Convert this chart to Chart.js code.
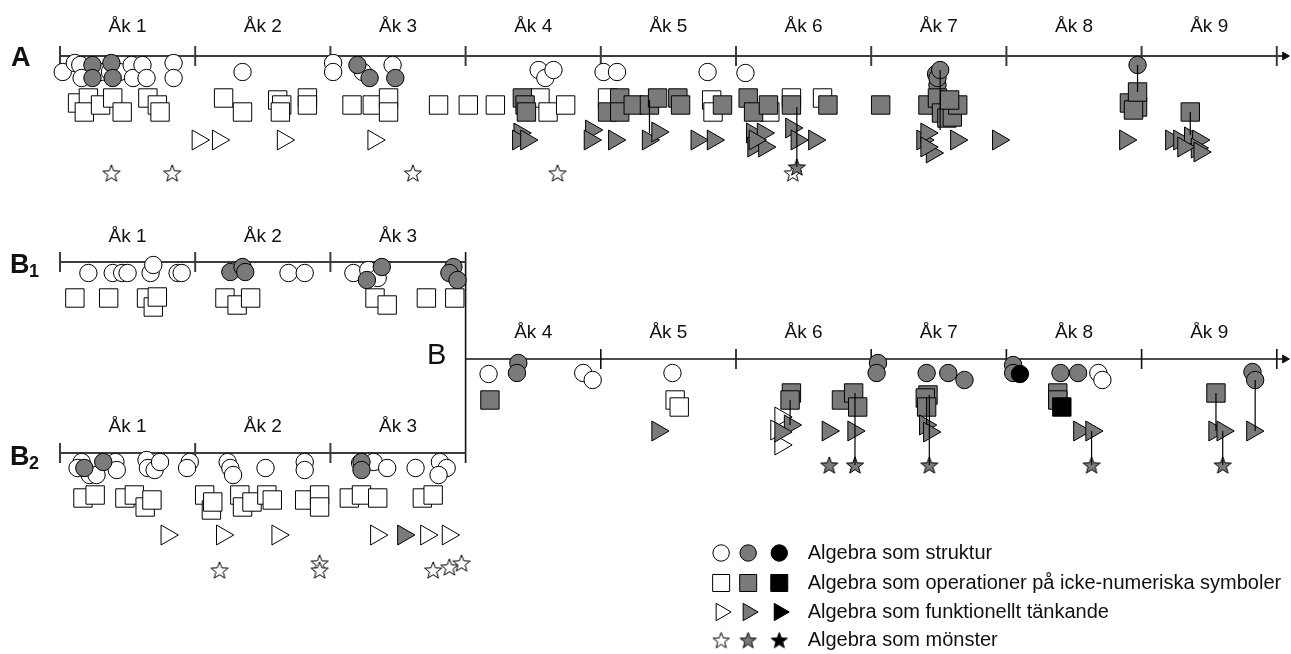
<!DOCTYPE html>
<html>
<head>
<meta charset="utf-8">
<script src="https://cdn.jsdelivr.net/npm/chart.js@4"></script>
<style>
  html, body { margin: 0; padding: 0; background: #fff; }
  canvas { display: block; }
</style>
</head>
<body>
<canvas id="c" width="1291" height="654"></canvas>
<script>
// x = school year (0 = start of Åk 1), y = vertical position in the figure
const GRADES_A  = ['Åk 1','Åk 2','Åk 3','Åk 4','Åk 5','Åk 6','Åk 7','Åk 8','Åk 9'];
const GRADES_B1 = ['Åk 1','Åk 2','Åk 3'];
const GRADES_B2 = ['Åk 1','Åk 2','Åk 3'];
const GRADES_B  = ['Åk 4','Åk 5','Åk 6','Åk 7','Åk 8','Åk 9'];

const LEGEND_TEXT = [
  'Algebra som struktur',
  'Algebra som operationer på icke-numeriska symboler',
  'Algebra som funktionellt tänkande',
  'Algebra som mönster'
];

// ---- panel A
const A_CIRCLE_W = [[0.02,72],[0.11,63],[0.15,65],[0.16,78],[0.30,72],[0.37,72],[0.44,72],[0.53,65],[0.54,78],[0.61,65],[0.64,78],[0.84,63],[0.84,78],[1.35,72],[2.02,63],[2.02,72],[2.24,72],[2.46,65],[3.54,70],[3.59,78],[3.65,70],[4.02,72],[4.12,72],[4.79,72],[5.07,73]];
const A_CIRCLE_G = [[0.24,65],[0.24,78],[0.38,63],[0.39,78],[2.20,65],[2.29,78],[2.48,78],[6.48,74],[6.49,85],[6.49,78],[6.51,70],[7.97,65]];
const A_SQUARE_W = [[0.13,103],[0.21,98],[0.18,112],[0.30,105],[0.39,98],[0.46,112],[0.65,98],[0.72,105],[0.74,112],[1.21,98],[1.35,112],[1.61,100],[1.64,105],[1.63,112],[1.83,98],[1.83,105],[2.16,105],[2.31,105],[2.43,98],[2.43,112],[2.80,105],[3.02,105],[3.22,105],[3.55,98],[3.61,112],[3.74,105],[4.05,98],[4.82,100],[4.83,112],[5.25,112],[5.41,98],[5.64,98]];
const A_SQUARE_G = [[3.42,98],[3.44,105],[3.45,112],[4.05,112],[4.14,98],[4.14,112],[4.24,105],[4.36,105],[4.42,98],[4.57,98],[4.59,105],[4.90,105],[5.09,98],[5.13,112],[5.24,105],[5.41,105],[5.68,105],[6.07,105],[6.42,105],[6.49,98],[6.52,113],[6.56,118],[6.60,117],[6.64,105],[6.58,100],[7.91,103],[7.97,107],[7.94,110],[7.97,92],[8.36,112]];
const A_TRI_W = [[1.02,140],[1.17,140],[1.65,140],[2.32,140]];
const A_TRI_G = [[3.40,133],[3.39,140],[3.45,140],[3.93,130],[3.92,140],[4.10,140],[4.35,140],[4.42,132],[4.71,140],[4.83,140],[5.12,133],[5.13,147],[5.20,133],[5.21,147],[5.14,140],[5.41,128],[5.45,140],[5.58,140],[6.38,140],[6.41,133],[6.45,153],[6.41,147],[6.63,140],[6.94,140],[7.88,140],[8.22,140],[8.28,140],[8.36,137],[8.42,140],[8.41,148],[8.31,147],[8.43,152]];
const A_STAR_W = [[0.38,173],[0.83,173],[2.61,173],[3.68,173],[5.42,173]];
const A_STAR_G = [[5.45,167]];
const A_LINKS = [[4.36,100,133],[5.45,107,167],[6.51,70,130],[7.97,65,92],[8.36,112,135]];

// ---- panel B1
const B1_CIRCLE_W = [[0.21,273],[0.39,273],[0.46,273],[0.50,273],[0.67,273],[0.69,265],[0.87,273],[0.90,273],[1.69,273],[1.81,273],[2.17,273],[2.28,270],[2.35,278]];
const B1_CIRCLE_G = [[1.26,272],[1.35,267],[1.37,272],[2.38,267],[2.27,280],[2.91,267],[2.88,273],[2.94,280]];
const B1_SQUARE_W = [[0.11,298],[0.36,298],[0.64,298],[0.69,307],[0.72,297],[1.22,298],[1.31,305],[1.41,298],[2.33,298],[2.42,305],[2.71,298],[2.92,298]];

// ---- panel B2
const B2_CIRCLE_W = [[0.16,462],[0.13,468],[0.22,475],[0.27,475],[0.41,462],[0.42,470],[0.64,460],[0.65,468],[0.70,470],[0.74,462],[0.96,462],[0.94,468],[1.24,462],[1.26,468],[1.28,475],[1.52,468],[1.81,462],[1.81,470],[2.22,463],[2.32,462],[2.42,468],[2.63,468],[2.81,462],[2.86,468],[2.80,475]];
const B2_CIRCLE_G = [[0.18,468],[0.32,462],[2.23,462],[2.23,470]];
const B2_SQUARE_W = [[0.17,498],[0.26,495],[0.48,498],[0.55,495],[0.63,507],[0.68,500],[1.07,495],[1.12,510],[1.13,502],[1.33,495],[1.35,507],[1.42,502],[1.53,495],[1.57,500],[1.81,500],[1.92,495],[1.92,507],[2.14,498],[2.23,495],[2.35,498],[2.68,498],[2.76,495]];
const B2_TRI_W = [[0.79,535],[1.20,535],[1.61,535],[2.34,535],[2.71,535],[2.87,535]];
const B2_TRI_G = [[2.54,535]];
const B2_STAR_W = [[1.18,570],[1.92,563],[1.92,570],[2.76,570],[2.88,567],[2.97,563]];

// ---- panel B
const B_CIRCLE_W = [[3.17,374],[3.87,373],[3.94,380],[4.53,373],[7.68,373],[7.71,380]];
const B_CIRCLE_G = [[3.39,363],[3.38,373],[6.05,363],[6.04,373],[6.41,373],[6.57,373],[6.69,380],[7.05,365],[7.05,373],[7.40,373],[7.53,373],[8.82,372],[8.84,380]];
const B_CIRCLE_K = [[7.10,374]];
const B_SQUARE_W = [[4.55,400],[4.58,407]];
const B_SQUARE_G = [[3.18,400],[5.41,393],[5.40,400],[5.78,400],[5.87,393],[5.90,407],[6.42,395],[6.40,398],[6.41,407],[7.38,393],[7.38,400],[8.55,393]];
const B_SQUARE_K = [[7.41,407]];
const B_TRI_W = [[5.33,417],[5.33,445],[5.30,430]];
const B_TRI_G = [[4.42,431],[5.40,425],[5.33,432],[5.68,431],[5.87,431],[6.40,425],[6.43,432],[7.54,431],[7.63,431],[8.54,431],[8.60,431],[8.82,431]];
const B_STAR_G = [[5.69,465],[5.88,465],[6.43,465],[7.63,465],[8.60,465]];
const B_LINKS = [[5.40,400,425],[5.88,393,465],[6.43,395,465],[6.41,398,425],[7.63,431,465],[8.55,393,431],[8.60,431,465],[8.84,380,431]];

// ---- timelines: [y, from, to, ticks]
const LINE_A  = [56, 0, 9.05, [0,1,2,3,4,5,6,7,8,9]];
const LINE_B1 = [262, 0, 3, [0,1,2]];
const LINE_B2 = [453, 0, 3, [0,1,2]];
const LINE_B  = [359, 3, 9.05, [4,5,6,7,8,9]];
const CONNECTOR_B = [3, 252, 463];

// ---- legend marker positions (x in years, y rows)
const LEG_X = [4.89, 5.09, 5.32];
const LEG_Y = [553, 583, 612, 640];
const LEG_TEXT_X = 5.53;

const WHITE = '#ffffff', GRAY = '#7a7a7a', BLACK = '#000000';
const PX_PER_YEAR = 135.2;

function pts(arr) { return arr.map(([x, y]) => ({ x, y })); }

function starImg(fill, size) {
  const c = document.createElement('canvas');
  c.width = c.height = size + 2;
  const g = c.getContext('2d');
  const cx = (size + 2) / 2, cy = (size + 2) / 2 + 0.9;
  const R = size / 2, r = R * 0.42;
  g.beginPath();
  for (let i = 0; i < 10; i++) {
    const rad = i % 2 ? r : R;
    const a = -Math.PI / 2 + i * Math.PI / 5;
    g.lineTo(cx + rad * Math.cos(a), cy + rad * Math.sin(a));
  }
  g.closePath();
  g.fillStyle = fill; g.fill();
  g.lineWidth = 1; g.strokeStyle = '#000'; g.stroke();
  return c;
}

const SHAPE = {
  circle: { pointStyle: 'circle', pointRadius: 8.7, rotation: 0 },
  square: { pointStyle: 'rect', pointRadius: 13, rotation: 0 },
  tri:    { pointStyle: 'triangle', pointRadius: 11.5, rotation: 90 },
};

function marks(data, shape, fill, order) {
  const base = shape === 'star'
    ? { pointStyle: starImg(fill, 18), pointRadius: 9, rotation: 0 }
    : SHAPE[shape];
  return {
    data: pts(data),
    showLine: false,
    pointStyle: base.pointStyle,
    pointRadius: base.pointRadius,
    pointRotation: base.rotation,
    pointBackgroundColor: fill,
    pointBorderColor: '#000',
    pointBorderWidth: 1,
    pointHoverRadius: base.pointRadius,
    order: order
  };
}

function segments(list, color, width, order) {
  const data = [];
  list.forEach(([x1, y1, x2, y2]) => {
    data.push({ x: x1, y: y1 }, { x: x2, y: y2 }, { x: x2, y: null });
  });
  return {
    data, showLine: true, spanGaps: false, borderColor: color, borderWidth: width,
    pointRadius: 0, pointHoverRadius: 0, order: order
  };
}

function timelineSegs(line, tickLen) {
  const [y, a, b, ticks] = line;
  const s = [[a, y, b, y]];
  ticks.forEach(t => s.push([t, y - tickLen, t, y + tickLen]));
  return s;
}

const links = A_LINKS.concat(B_LINKS).map(([x, y1, y2]) => [x, y1, x, y2]);

const datasets = [
  segments(links, '#000', 1.2, 0),
  segments(timelineSegs(LINE_A, 10), '#3c3c3c', 2, 30),
  segments(timelineSegs(LINE_B1, 10).concat(timelineSegs(LINE_B2, 10)), '#3c3c3c', 2, 30),
  segments(timelineSegs(LINE_B, 10).concat([[CONNECTOR_B[0], CONNECTOR_B[1], CONNECTOR_B[0], CONNECTOR_B[2]]]), '#111', 1.6, 30),
  { data: [{ x: 9.06, y: LINE_A[0] }, { x: 9.06, y: LINE_B[0] }], showLine: false,
    pointStyle: 'triangle', pointRadius: 4.5, pointRotation: 90,
    pointBackgroundColor: '#111', pointBorderColor: '#111', pointBorderWidth: 1, order: 29 },

  marks(A_STAR_W.concat(B2_STAR_W), 'star', WHITE, 12),
  marks(A_STAR_G.concat(B_STAR_G), 'star', GRAY, 11),
  marks(A_TRI_W.concat(B2_TRI_W, B_TRI_W), 'tri', WHITE, 14),
  marks(A_TRI_G.concat(B2_TRI_G, B_TRI_G), 'tri', GRAY, 13),
  marks(A_SQUARE_W.concat(B1_SQUARE_W, B2_SQUARE_W, B_SQUARE_W), 'square', WHITE, 16),
  marks(A_SQUARE_G.concat(B_SQUARE_G), 'square', GRAY, 15),
  marks(B_SQUARE_K, 'square', BLACK, 14.5),
  marks(A_CIRCLE_W.concat(B1_CIRCLE_W, B2_CIRCLE_W, B_CIRCLE_W), 'circle', WHITE, 18),
  marks(A_CIRCLE_G.concat(B1_CIRCLE_G, B2_CIRCLE_G, B_CIRCLE_G), 'circle', GRAY, 17),
  marks(B_CIRCLE_K, 'circle', BLACK, 16.5),
];

// legend markers
const LEG_SHAPES = ['circle', 'square', 'tri', 'star'];
const LEG_FILLS = [WHITE, GRAY, BLACK];
LEG_SHAPES.forEach((sh, r) => {
  LEG_FILLS.forEach((f, k) => {
    const d = marks([[LEG_X[k], LEG_Y[r]]], sh, f, 1);
    if (sh === 'circle') d.pointRadius = 8.2;
    if (sh === 'square') d.pointRadius = 12;
    if (sh === 'tri') d.pointRadius = 10;
    if (sh === 'star') d.pointStyle = starImg(f, 17);
    datasets.push(d);
  });
});

const FONT = '"Liberation Sans", Arial, sans-serif';

const textPlugin = {
  id: 'texts',
  afterDraw(chart) {
    const ctx = chart.ctx, xs = chart.scales.x, ys = chart.scales.y;
    ctx.save();
    ctx.fillStyle = '#111';
    ctx.textBaseline = 'middle';
    ctx.textAlign = 'center';
    ctx.font = '19px ' + FONT;
    const grade = (labels, start, y) => labels.forEach((t, i) =>
      ctx.fillText(t, xs.getPixelForValue(start + i + 0.5), ys.getPixelForValue(y)));
    grade(GRADES_A, 0, 27);
    grade(GRADES_B1, 0, 237);
    grade(GRADES_B2, 0, 427);
    grade(GRADES_B, 3, 333);

    // panel letters
    ctx.textAlign = 'left';
    ctx.font = 'bold 27px ' + FONT;
    ctx.fillText('A', 11, ys.getPixelForValue(59));
    ctx.fillText('B', 10, ys.getPixelForValue(266));
    ctx.fillText('B', 10, ys.getPixelForValue(458));
    ctx.font = 'bold 18px ' + FONT;
    ctx.fillText('1', 29, ys.getPixelForValue(272));
    ctx.fillText('2', 29, ys.getPixelForValue(464));
    ctx.font = '29px ' + FONT;
    ctx.fillText('B', 427, ys.getPixelForValue(356));

    // legend text
    ctx.font = '20px ' + FONT;
    LEGEND_TEXT.forEach((t, i) => ctx.fillText(t, xs.getPixelForValue(LEG_TEXT_X), ys.getPixelForValue(LEG_Y[i])));
    ctx.restore();
  }
};

new Chart(document.getElementById('c'), {
  type: 'scatter',
  data: { datasets },
  options: {
    responsive: false,
    animation: false,
    devicePixelRatio: 1,
    layout: { padding: 0, autoPadding: false },
    events: [],
    plugins: { legend: { display: false }, tooltip: { enabled: false } },
    elements: { line: { tension: 0 } },
    scales: {
      x: { type: 'linear', display: false, min: -60 / PX_PER_YEAR, max: (1291 - 60) / PX_PER_YEAR },
      y: { type: 'linear', display: false, min: 0, max: 654, reverse: true }
    }
  },
  plugins: [textPlugin]
});
</script>
</body>
</html>
